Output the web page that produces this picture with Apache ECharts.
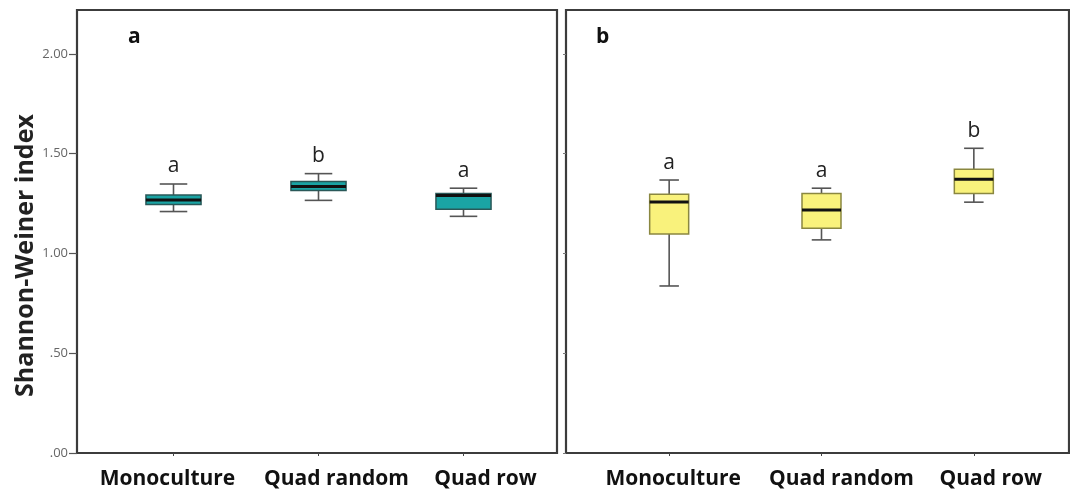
<!DOCTYPE html>
<html>
<head>
<meta charset="utf-8">
<script src="https://cdn.jsdelivr.net/npm/echarts@6/dist/echarts.min.js"></script>
<style>
  html, body { margin: 0; padding: 0; background: #fff; }
  #chart { width: 1070px; height: 495px; }
</style>
</head>
<body>
<div id="chart"></div>
<script>
// Planting designs shown on the x axis of both panels
const categories = ['Monoculture', 'Quad random', 'Quad row'];

// Box summaries per design: [min, Q1, median, Q3, max]
const boxesA = [
  [1.21, 1.245, 1.268, 1.293, 1.348],
  [1.266, 1.315, 1.335, 1.36, 1.40],
  [1.186, 1.222, 1.29, 1.30, 1.327]
];
const boxesB = [
  [0.837, 1.098, 1.258, 1.297, 1.368],
  [1.068, 1.126, 1.218, 1.30, 1.327],
  [1.257, 1.30, 1.372, 1.422, 1.527]
];

// Significance groups printed above each box
const lettersA = ['a', 'b', 'a'];
const lettersB = ['a', 'a', 'b'];

// Y axis ticks and their printed labels
const yTicks = [0, 0.5, 1, 1.5, 2];
const yTickLabels = ['.00', '.50', '1.00', '1.50', '2.00'];
const yMax = 2.22;

const panelLabels = ['a', 'b'];

// Horizontal nudge (px) of each category label away from its tick
const labelNudgeA = [-6, 18, 22];
const labelNudgeB = [4, 20, 17];

const chart = echarts.init(document.getElementById('chart'));

function tickLabel(v) {
  const i = yTicks.findIndex(t => Math.abs(t - v) < 1e-6);
  return i >= 0 ? yTickLabels[i] : '';
}

// Draws one box: whiskers with short caps, filled box, bold median, group letter
function boxRenderer(cfg) {
  return function (params, api) {
    const idx = api.value(0);
    const band = api.size([1, 0])[0];
    const bw = band * cfg.boxRatio;
    const cw = bw / 2;
    const x = api.coord([idx, 0])[0];
    const py = k => api.coord([idx, api.value(k)])[1];
    const yMin = py(1), yQ1 = py(2), yMed = py(3), yQ3 = py(4), yTop = py(5);
    const whisker = { stroke: '#555', lineWidth: 1.6 };
    return {
      type: 'group',
      children: [
        { type: 'line', shape: { x1: x, y1: yTop, x2: x, y2: yQ3 }, style: whisker },
        { type: 'line', shape: { x1: x, y1: yQ1, x2: x, y2: yMin }, style: whisker },
        { type: 'line', shape: { x1: x - cw / 2, y1: yTop, x2: x + cw / 2, y2: yTop }, style: whisker },
        { type: 'line', shape: { x1: x - cw / 2, y1: yMin, x2: x + cw / 2, y2: yMin }, style: whisker },
        {
          type: 'rect',
          shape: { x: x - bw / 2, y: yQ3, width: bw, height: yQ1 - yQ3 },
          style: { fill: cfg.fill, stroke: cfg.stroke, lineWidth: 1.5 }
        },
        {
          type: 'line',
          shape: { x1: x - bw / 2, y1: yMed, x2: x + bw / 2, y2: yMed },
          style: { stroke: '#111', lineWidth: 3 }
        },
        {
          type: 'text',
          x: x,
          y: yTop - 7,
          style: {
            text: cfg.letters[params.dataIndex],
            align: 'center',
            verticalAlign: 'bottom',
            fontFamily: '"Open Sans", sans-serif',
            fontSize: 21,
            fill: '#222'
          }
        }
      ]
    };
  };
}

const frameGrid = (left, width) => ({
  left: left, top: 10, width: width, height: 443,
  show: true, borderColor: '#3c3c3c', borderWidth: 2.2, backgroundColor: 'transparent'
});
const dataGrid = (left, width) => ({ left: left, top: 10, width: width, height: 443 });

const catFont = {
  color: '#111',
  fontFamily: '"Open Sans", sans-serif',
  fontWeight: 'bold',
  fontSize: 21
};

// Category axis whose labels are shifted sideways with rich-text padding
function dataXAxis(gi, nudges) {
  const rich = {};
  nudges.forEach((d, i) => {
    rich['c' + i] = Object.assign({}, catFont, {
      padding: d >= 0 ? [0, 0, 0, 2 * d] : [0, -2 * d, 0, 0]
    });
  });
  return {
    gridIndex: gi,
    type: 'category',
    data: categories,
    boundaryGap: true,
    axisLine: { show: false },
    axisTick: { show: true, alignWithLabel: true, length: 3, lineStyle: { color: '#444' } },
    axisLabel: Object.assign({
      interval: 0,
      hideOverlap: false,
      margin: 16,
      formatter: (v, i) => '{c' + i + '|' + v + '}',
      rich: rich
    }, catFont),
    splitLine: { show: false }
  };
}

const hiddenY = gi => ({ gridIndex: gi, type: 'value', min: 0, max: yMax, show: false });

const letterStyle = { fontFamily: '"Open Sans", sans-serif', fontWeight: 'bold', fontSize: 21, color: '#111' };

chart.setOption({
  animation: false,
  backgroundColor: '#fff',
  title: [
    { text: panelLabels[0], left: 123, top: 22, textStyle: letterStyle },
    { text: panelLabels[1], left: 591, top: 22, textStyle: letterStyle }
  ],
  grid: [
    frameGrid(77, 480),
    dataGrid(101, 435),
    frameGrid(566, 503),
    dataGrid(593, 457)
  ],
  xAxis: [
    { gridIndex: 0, type: 'value', show: false },
    dataXAxis(1, labelNudgeA),
    { gridIndex: 2, type: 'value', show: false },
    dataXAxis(3, labelNudgeB)
  ],
  yAxis: [
    {
      gridIndex: 0, type: 'value', min: 0, max: yMax,
      axisLine: { show: false },
      splitLine: { show: false },
      axisTick: { show: true, length: 8, customValues: yTicks, lineStyle: { color: '#555', width: 1.2 } },
      axisLabel: {
        customValues: yTicks, formatter: tickLabel, margin: 9,
        color: '#666', fontFamily: '"Open Sans", sans-serif', fontSize: 13
      },
      name: 'Shannon-Weiner index',
      nameLocation: 'middle',
      nameGap: 38,
      nameTextStyle: {
        fontFamily: '"Open Sans", sans-serif', fontWeight: 'bold', fontSize: 25, color: '#222',
        padding: [0, 48, 0, 0]
      }
    },
    hiddenY(1),
    {
      gridIndex: 2, type: 'value', min: 0, max: yMax,
      axisLine: { show: false },
      splitLine: { show: false },
      axisTick: { show: true, length: 3, customValues: yTicks, lineStyle: { color: '#777' } },
      axisLabel: { show: false }
    },
    hiddenY(3)
  ],
  series: [
    {
      type: 'custom',
      xAxisIndex: 1, yAxisIndex: 1,
      clip: false,
      renderItem: boxRenderer({ boxRatio: 0.38, fill: '#1aa4a4', stroke: '#2a5858', letters: lettersA }),
      encode: { x: 0, y: [1, 2, 3, 4, 5] },
      data: boxesA.map((b, i) => [i].concat(b))
    },
    {
      type: 'custom',
      xAxisIndex: 3, yAxisIndex: 3,
      clip: false,
      renderItem: boxRenderer({ boxRatio: 0.256, fill: '#f9f27c', stroke: '#8a8740', letters: lettersB }),
      encode: { x: 0, y: [1, 2, 3, 4, 5] },
      data: boxesB.map((b, i) => [i].concat(b))
    }
  ]
});
</script>
</body>
</html>
